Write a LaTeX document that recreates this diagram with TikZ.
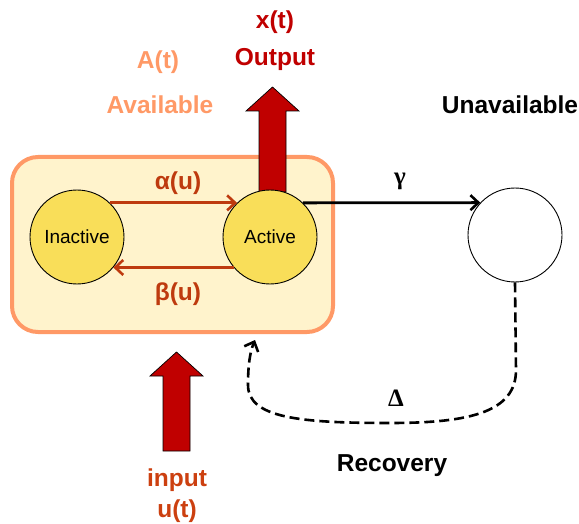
\documentclass[tikz,border=0pt]{standalone}
\usepackage{fontspec}
\setmainfont{Liberation Sans}
\newfontfamily\serifgr{Liberation Serif}
\usetikzlibrary{arrows.meta}
\definecolor{boxfill}{HTML}{FFF3CC}
\definecolor{boxline}{HTML}{FF9966}
\definecolor{stateyel}{HTML}{F9DE59}
\definecolor{darkred}{HTML}{C00000}
\definecolor{rust}{HTML}{BE3A0E}
\definecolor{salmon}{HTML}{FF9966}
\definecolor{inputcol}{HTML}{CC4010}
\tikzset{
  lbl/.style={font=\fontsize{24.5}{28}\selectfont\bfseries, inner sep=0pt, anchor=base},
  grk/.style={font=\fontsize{25}{29}\selectfont\serifgr\bfseries, inner sep=0pt, anchor=base},
  state/.style={circle, draw=black, line width=0.9pt, minimum size=94pt, inner sep=0pt, font=\fontsize{19}{22}\selectfont},
  ratearrow/.style={draw=rust, line width=2.8pt, -{Straight Barb[length=8pt,width=15pt,line width=2.6pt]}},
  failarrow/.style={draw=black, line width=2.8pt, -{Straight Barb[length=8pt,width=15pt,line width=2.6pt]}},
  recarrow/.style={draw=black, line width=2.6pt, dash pattern=on 10pt off 5pt, -{Straight Barb[length=8pt,width=15pt,line width=2.6pt]}},
  blockarrow/.style={fill=darkred, draw=black, line width=0.7pt, line join=miter},
}
\begin{document}
\begin{tikzpicture}[x=1pt,y=-1pt]
\useasboundingbox (0,0) rectangle (579,524);
% available box
\draw[fill=boxfill, draw=boxline, line width=4pt, rounded corners=26pt] (12,157) rectangle (333,332);
% output block arrow
\draw[blockarrow] (259,192) -- (259,111) -- (246,111) -- (272.5,87) -- (299,111) -- (286,111) -- (286,192) -- cycle;
% input block arrow
\draw[blockarrow] (163,451) -- (163,376) -- (150,376) -- (176.5,352) -- (203,376) -- (190,376) -- (190,451) -- cycle;
% states
\node[state, fill=stateyel] (inact) at (77,237) {Inactive};
\node[state, fill=stateyel] (act) at (270,237) {Active};
\node[state, fill=white] (unav) at (515,235) {};
% alpha / beta
\draw[ratearrow] (inact.46) -- (act.134);
\draw[ratearrow] (act.220) -- (inact.-40);
\node[lbl, text=rust] (alab) at (178,190) {α(u)};
\node[lbl, text=rust] (blab) at (178,301) {β(u)};
% gamma
\draw[failarrow] (act.46) -- (unav.137);
\node[grk] (glab) at (400,185) {γ};
% recovery
\coordinate (recend) at (255,340);
\draw[recarrow] (unav.south) -- (516,370) .. controls (516,412) and (470,423) .. (390,423)
   .. controls (300,423) and (248,418) .. (248,385) .. controls (248,365) and (250,352) .. (recend);
\node[grk] (dlab) at (396,406) {Δ};
% labels
\node[lbl, text=darkred] (xt) at (275,29) {x(t)};
\node[lbl, text=darkred] (outp) at (275,66) {Output};
\node[lbl, text=salmon] (at) at (158,69) {A(t)};
\node[lbl, text=salmon] (avail) at (160,114) {Available};
\node[lbl, text=black] (unavl) at (510,114) {Unavailable};
\node[lbl, text=black] (recov) at (392,471) {Recovery};
\node[lbl, text=inputcol] (inp) at (177,486) {input};
\node[lbl, text=inputcol] (ut) at (177,517) {u(t)};
\end{tikzpicture}
\end{document}
